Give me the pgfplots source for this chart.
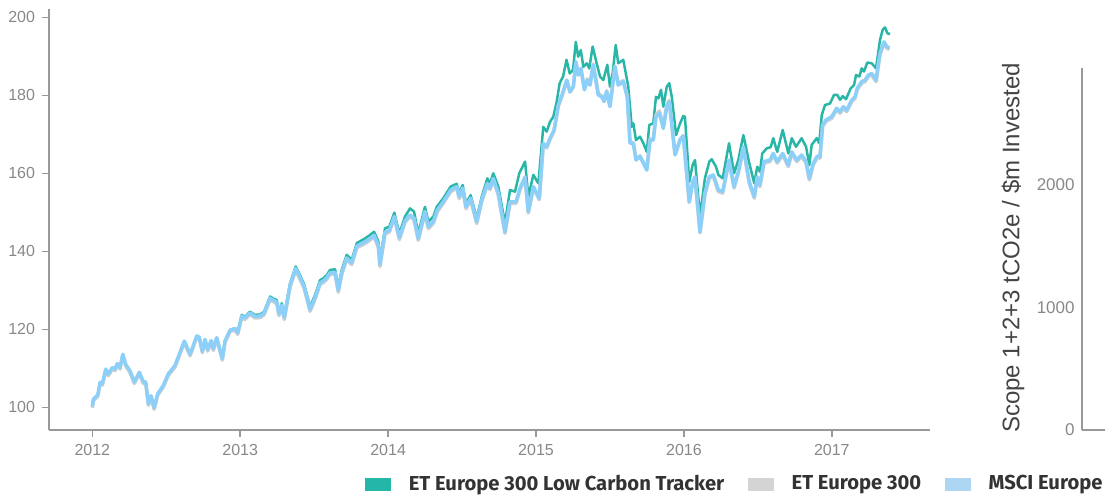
\documentclass[border=0pt]{standalone}
\usepackage{pgfplots}
\pgfplotsset{compat=1.18}
\usepackage{pgfplotstable}
\usepackage{fontspec}
\setmainfont{Liberation Sans}
\newfontfamily\legendfont{Fira Sans}

\definecolor{tealline}{RGB}{41,182,166}
\definecolor{blueline}{RGB}{140,208,250}
\definecolor{grayline}{RGB}{208,208,208}
\definecolor{tealleg}{RGB}{34,183,166}
\definecolor{grayleg}{RGB}{212,212,212}
\definecolor{blueleg}{RGB}{172,214,242}
\definecolor{axisgray}{RGB}{153,153,153}
\definecolor{tickgray}{RGB}{136,136,136}
\definecolor{labeldark}{RGB}{68,68,68}
\definecolor{legendtext}{RGB}{51,51,51}

% ET Europe 300 Low Carbon Tracker
\pgfplotstableread{
t v
2012.000 100.0
2012.007 101.9
2012.037 103.0
2012.052 106.2
2012.068 105.9
2012.091 109.6
2012.108 108.3
2012.135 110.0
2012.153 109.6
2012.169 111.0
2012.187 110.0
2012.206 113.4
2012.226 110.8
2012.255 109.1
2012.284 106.2
2012.318 108.7
2012.345 106.2
2012.361 106.2
2012.379 100.6
2012.397 102.7
2012.418 99.6
2012.442 103.2
2012.480 105.3
2012.514 108.3
2012.559 110.4
2012.593 113.8
2012.622 116.7
2012.661 113.4
2012.706 118.1
2012.723 117.8
2012.744 114.3
2012.762 117.3
2012.780 114.7
2012.803 117.0
2012.818 114.9
2012.841 117.8
2012.879 112.4
2012.897 117.0
2012.931 119.8
2012.965 120.3
2012.983 119.2
2013.010 123.7
2013.032 123.2
2013.066 124.5
2013.100 123.7
2013.134 123.8
2013.161 124.5
2013.202 128.4
2013.224 127.9
2013.247 127.5
2013.262 124.5
2013.281 126.7
2013.298 123.7
2013.337 131.8
2013.375 136.1
2013.404 133.9
2013.433 131.4
2013.472 125.8
2013.506 128.8
2013.540 132.6
2013.562 133.1
2013.585 133.9
2013.607 135.2
2013.641 135.4
2013.663 130.9
2013.686 135.2
2013.720 139.1
2013.754 137.8
2013.788 142.1
2013.844 143.3
2013.878 144.2
2013.905 145.0
2013.934 142.5
2013.945 137.8
2013.979 145.9
2014.008 146.3
2014.042 149.9
2014.076 144.6
2014.114 148.9
2014.148 151.0
2014.175 150.2
2014.204 144.6
2014.249 151.4
2014.272 147.6
2014.306 148.9
2014.329 151.4
2014.373 153.6
2014.423 156.6
2014.464 157.3
2014.481 154.9
2014.504 157.0
2014.527 152.3
2014.558 154.4
2014.599 148.5
2014.633 154.0
2014.671 158.7
2014.689 157.4
2014.711 160.0
2014.745 156.6
2014.790 147.2
2014.824 155.7
2014.858 155.3
2014.887 160.0
2014.926 163.0
2014.948 154.0
2014.982 159.6
2015.016 157.4
2015.049 171.9
2015.072 170.7
2015.095 173.2
2015.117 174.5
2015.140 178.4
2015.160 183.1
2015.183 184.8
2015.206 189.1
2015.228 185.6
2015.250 186.5
2015.269 193.7
2015.285 189.9
2015.303 191.6
2015.320 187.3
2015.343 188.2
2015.360 186.9
2015.383 192.5
2015.410 188.2
2015.433 184.8
2015.455 183.9
2015.482 187.8
2015.500 182.2
2015.518 185.6
2015.539 192.9
2015.556 188.2
2015.590 189.1
2015.624 182.2
2015.647 171.9
2015.658 172.8
2015.676 168.5
2015.703 169.4
2015.726 167.7
2015.749 165.5
2015.766 172.4
2015.793 172.8
2015.811 179.6
2015.827 179.2
2015.845 181.4
2015.861 177.1
2015.884 182.2
2015.901 183.1
2015.918 179.6
2015.947 169.8
2015.974 172.8
2015.996 174.7
2016.007 174.5
2016.036 157.8
2016.059 162.1
2016.075 163.4
2016.109 148.9
2016.142 158.7
2016.172 163.0
2016.188 163.6
2016.217 161.7
2016.233 159.6
2016.262 158.7
2016.305 167.7
2016.339 160.0
2016.368 163.4
2016.402 169.8
2016.442 162.6
2016.476 157.4
2016.496 161.7
2016.514 160.4
2016.530 165.1
2016.560 166.4
2016.587 166.7
2016.604 169.0
2016.631 165.5
2016.668 171.1
2016.706 165.1
2016.729 169.0
2016.758 166.8
2016.796 169.0
2016.826 166.8
2016.848 162.1
2016.864 167.3
2016.898 169.0
2016.915 167.7
2016.932 174.9
2016.954 177.5
2016.988 177.9
2017.015 180.1
2017.037 180.1
2017.056 178.8
2017.074 179.8
2017.096 179.0
2017.128 181.8
2017.150 182.6
2017.164 185.2
2017.186 184.8
2017.202 186.9
2017.218 186.1
2017.240 188.4
2017.270 188.2
2017.299 186.9
2017.326 194.2
2017.344 196.8
2017.360 197.4
2017.376 195.9
2017.394 195.7
}\lowcarbon

% MSCI Europe
\pgfplotstableread{
t v
2012.000 100.2
2012.007 102.1
2012.037 103.2
2012.052 106.4
2012.068 106.1
2012.091 109.8
2012.108 108.5
2012.135 110.2
2012.153 109.8
2012.169 111.2
2012.187 110.2
2012.206 113.6
2012.226 111.0
2012.255 109.3
2012.284 106.5
2012.318 109.0
2012.345 106.5
2012.361 106.5
2012.379 100.9
2012.397 103.0
2012.418 99.9
2012.442 103.5
2012.480 105.6
2012.514 108.6
2012.559 110.7
2012.593 114.1
2012.622 117.0
2012.661 113.6
2012.706 118.3
2012.723 118.0
2012.744 114.4
2012.762 117.4
2012.780 114.8
2012.803 117.1
2012.818 115.0
2012.841 117.9
2012.879 112.5
2012.897 117.0
2012.931 119.8
2012.965 120.2
2012.983 119.1
2013.010 123.4
2013.032 122.9
2013.066 124.2
2013.100 123.3
2013.134 123.4
2013.161 124.1
2013.202 128.0
2013.224 127.5
2013.247 127.0
2013.262 124.0
2013.281 126.2
2013.298 123.0
2013.337 131.3
2013.375 135.6
2013.404 133.3
2013.433 130.8
2013.472 125.1
2013.506 128.1
2013.540 131.9
2013.562 132.4
2013.585 133.2
2013.607 134.5
2013.641 134.6
2013.663 130.0
2013.686 134.4
2013.720 138.3
2013.754 137.0
2013.788 141.3
2013.844 142.4
2013.878 143.3
2013.905 144.1
2013.934 141.5
2013.945 136.6
2013.979 144.9
2014.008 145.3
2014.042 148.9
2014.076 143.5
2014.114 147.8
2014.148 149.3
2014.175 148.5
2014.204 143.3
2014.249 150.2
2014.272 146.3
2014.306 147.6
2014.333 150.6
2014.373 152.7
2014.423 155.7
2014.464 156.6
2014.481 154.0
2014.504 156.2
2014.527 151.4
2014.558 153.6
2014.599 147.6
2014.633 153.2
2014.671 157.4
2014.689 156.2
2014.711 158.7
2014.745 154.9
2014.790 145.0
2014.824 152.7
2014.865 152.7
2014.892 156.2
2014.926 159.1
2014.948 150.2
2014.982 156.6
2015.022 153.6
2015.049 167.7
2015.072 166.8
2015.095 169.0
2015.122 171.1
2015.151 177.5
2015.180 180.5
2015.208 183.9
2015.230 180.9
2015.252 182.2
2015.270 188.6
2015.286 185.2
2015.304 186.9
2015.327 181.4
2015.347 183.9
2015.365 182.6
2015.387 187.8
2015.421 180.1
2015.444 179.6
2015.460 178.4
2015.478 180.9
2015.500 177.1
2015.534 187.3
2015.556 182.6
2015.590 183.5
2015.617 179.6
2015.636 167.7
2015.658 167.7
2015.676 163.4
2015.703 164.3
2015.726 162.6
2015.749 160.8
2015.771 168.5
2015.793 168.5
2015.811 174.5
2015.834 175.4
2015.861 171.5
2015.884 177.1
2015.901 178.4
2015.940 164.7
2015.974 168.5
2015.996 169.6
2016.036 152.7
2016.059 157.8
2016.075 159.1
2016.109 145.0
2016.142 154.9
2016.172 159.1
2016.199 159.6
2016.233 155.7
2016.262 155.3
2016.305 163.4
2016.339 156.6
2016.368 160.4
2016.402 166.8
2016.442 157.8
2016.476 154.0
2016.496 159.1
2016.514 157.0
2016.542 163.0
2016.582 163.4
2016.604 165.1
2016.631 163.0
2016.668 165.1
2016.706 162.1
2016.729 165.5
2016.763 163.4
2016.796 164.7
2016.826 163.0
2016.848 158.7
2016.875 162.6
2016.902 164.4
2016.920 164.3
2016.938 172.4
2016.961 173.7
2016.999 174.5
2017.033 176.7
2017.056 175.8
2017.078 177.1
2017.101 176.2
2017.135 178.8
2017.157 179.6
2017.172 181.8
2017.202 183.5
2017.225 183.9
2017.247 185.2
2017.270 185.6
2017.299 183.9
2017.326 190.8
2017.353 193.7
2017.372 192.5
2017.389 192.1
}\msci

% ET Europe 300
\pgfplotstableread{
t v
2012.000 99.9
2012.007 101.7
2012.037 102.8
2012.052 106.0
2012.068 105.7
2012.091 109.4
2012.108 108.1
2012.135 109.8
2012.153 109.4
2012.169 110.8
2012.187 109.8
2012.206 113.2
2012.226 110.6
2012.255 108.9
2012.284 106.1
2012.318 108.6
2012.345 106.1
2012.361 106.1
2012.379 100.5
2012.397 102.6
2012.418 99.5
2012.442 103.1
2012.480 105.2
2012.514 108.2
2012.559 110.3
2012.593 113.7
2012.622 116.6
2012.661 113.2
2012.706 117.9
2012.723 117.6
2012.744 114.0
2012.762 117.0
2012.780 114.4
2012.803 116.7
2012.818 114.6
2012.841 117.5
2012.879 112.1
2012.897 116.6
2012.931 119.4
2012.965 119.8
2012.983 118.7
2013.010 123.0
2013.032 122.5
2013.066 123.8
2013.100 122.9
2013.134 123.0
2013.161 123.7
2013.202 127.6
2013.224 127.1
2013.247 126.6
2013.262 123.5
2013.281 125.8
2013.298 122.5
2013.337 130.9
2013.375 135.2
2013.404 132.9
2013.433 130.4
2013.472 124.6
2013.506 127.7
2013.540 131.5
2013.562 132.0
2013.585 132.8
2013.607 134.1
2013.641 134.2
2013.663 129.5
2013.686 134.0
2013.720 137.9
2013.754 136.6
2013.788 140.9
2013.844 142.0
2013.878 142.9
2013.905 143.7
2013.934 141.0
2013.945 136.1
2013.979 144.5
2014.008 144.9
2014.042 148.5
2014.076 143.0
2014.114 147.4
2014.148 148.9
2014.175 148.1
2014.204 142.8
2014.249 149.8
2014.272 145.8
2014.306 147.2
2014.333 150.2
2014.373 152.3
2014.423 155.3
2014.464 156.2
2014.481 153.5
2014.504 155.8
2014.527 150.9
2014.558 153.2
2014.599 147.1
2014.633 152.8
2014.671 157.0
2014.689 155.8
2014.711 158.3
2014.745 154.4
2014.790 144.6
2014.824 152.3
2014.865 152.3
2014.892 155.8
2014.926 158.7
2014.948 149.8
2014.982 156.2
2015.022 153.2
2015.049 167.3
2015.072 166.5
2015.095 168.7
2015.122 170.8
2015.151 177.2
2015.180 180.3
2015.208 183.7
2015.230 180.8
2015.252 182.1
2015.270 188.4
2015.286 185.2
2015.304 186.8
2015.327 181.6
2015.347 184.2
2015.365 183.0
2015.387 188.0
2015.421 180.4
2015.444 179.9
2015.460 178.7
2015.478 181.2
2015.500 177.4
2015.534 187.5
2015.556 182.9
2015.590 183.8
2015.617 179.8
2015.636 167.9
2015.658 167.9
2015.676 163.6
2015.703 164.5
2015.726 162.8
2015.749 161.0
2015.771 168.8
2015.793 168.8
2015.811 174.9
2015.834 176.0
2015.861 172.0
2015.884 177.5
2015.901 178.7
2015.940 164.9
2015.974 168.7
2015.996 169.7
2016.036 152.5
2016.059 157.6
2016.075 158.9
2016.109 144.7
2016.142 154.6
2016.172 158.8
2016.199 159.2
2016.233 155.3
2016.262 154.9
2016.305 163.0
2016.339 156.2
2016.368 160.0
2016.402 166.4
2016.442 157.4
2016.476 153.6
2016.496 158.7
2016.514 156.6
2016.542 162.6
2016.582 163.0
2016.604 164.7
2016.631 162.6
2016.668 164.7
2016.706 161.7
2016.729 165.1
2016.763 163.0
2016.796 164.3
2016.826 162.6
2016.848 158.3
2016.875 162.2
2016.902 164.0
2016.920 163.9
2016.938 172.0
2016.961 173.3
2016.999 174.1
2017.033 176.3
2017.056 175.4
2017.078 176.7
2017.101 175.8
2017.135 178.4
2017.157 179.2
2017.172 181.4
2017.202 183.1
2017.225 183.5
2017.247 184.8
2017.270 185.2
2017.299 183.5
2017.326 190.4
2017.353 193.3
2017.372 192.1
2017.389 191.7
}\etbroad

\begin{document}
\begin{tikzpicture}
\useasboundingbox (0pt,0pt) rectangle (552.5pt,247.5pt);

\begin{axis}[
  at={(24.5pt,32.5pt)}, anchor=south west,
  scale only axis, width=440.5pt, height=210.35pt,
  xmin=2011.707, xmax=2017.664,
  ymin=94.18, ymax=202.05,
  axis x line=bottom, axis y line=left,
  axis line style={draw=axisgray, line width=0.75pt, -},
  xtick={2012,2013,2014,2015,2016,2017},
  ytick={100,120,140,160,180,200},
  tick align=outside, major tick length=3.5pt,
  tick style={draw=axisgray, line width=0.75pt},
  ticklabel style={font=\fontsize{8}{9.6}\selectfont, text=tickgray},
  /pgf/number format/assume math mode=true,
  /pgf/number format/1000 sep={},
  legend columns=3,
  legend cell align=left,
  legend style={at={(axis description cs:0.3587,-0.1284)}, anchor=west,
    draw=none, fill=none, inner sep=0pt, outer sep=0pt,
    font=\legendfont\bfseries\fontsize{10.1}{12}\selectfont, text=legendtext,
    nodes={inner sep=0pt},
    /tikz/every odd column/.append style={column sep=9pt},
    /tikz/every even column/.append style={column sep=11.8pt}},
]
\addplot[tealline, line width=1.25pt, line join=round, forget plot] table[x=t, y=v] {\lowcarbon};
\addplot[grayline, line width=1.75pt, line join=round, forget plot] table[x=t, y=v] {\etbroad};
\addplot[blueline, line width=1.75pt, line join=round, forget plot] table[x=t, y=v] {\msci};

\addlegendimage{legend image code/.code={\fill[tealleg] (0pt,-3pt) rectangle (12.5pt,3pt);}}
\addlegendentry{ET Europe 300 Low Carbon Tracker}
\addlegendimage{legend image code/.code={\fill[grayleg] (0pt,-3pt) rectangle (12.5pt,3pt);}}
\addlegendentry{ET Europe 300}
\addlegendimage{legend image code/.code={\fill[blueleg] (0pt,-3pt) rectangle (12.5pt,3pt);}}
\addlegendentry{MSCI Europe}
\end{axis}

\begin{axis}[
  at={(541pt,32.5pt)}, anchor=south west,
  scale only axis, width=20pt, height=180.85pt,
  xmin=0, xmax=1, ymin=0, ymax=2953,
  axis x line=bottom, axis y line=left,
  axis line style={draw=axisgray, line width=0.75pt, -},
  xtick=\empty, ytick={0,1000,2000},
  major tick length=0pt,
  yticklabel style={font=\fontsize{8.5}{10}\selectfont, text=tickgray, inner sep=0pt, xshift=-3.5pt},
  /pgf/number format/assume math mode=true,
  /pgf/number format/1000 sep={},
]
\end{axis}

\node[rotate=90, font=\fontsize{12}{14}\selectfont, text=labeldark, inner sep=0pt]
  at (506.5pt,123.5pt) {Scope 1+2+3 tCO2e / \$m Invested};
\end{tikzpicture}
\end{document}
